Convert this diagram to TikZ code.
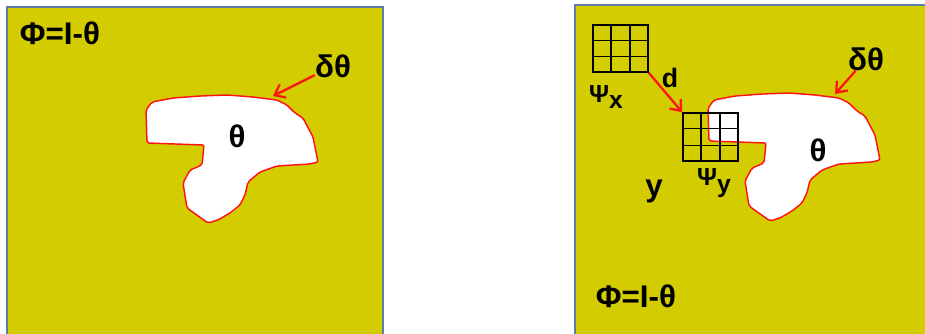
\documentclass[tikz,border=0pt]{standalone}
\usepackage{fontspec}
\setmainfont{Liberation Sans}
\usepackage{tikz}
\usetikzlibrary{arrows.meta, positioning, calc}
\definecolor{panelfill}{RGB}{210,204,0}
\definecolor{panelline}{RGB}{95,125,165}
\definecolor{edgered}{RGB}{255,20,20}

\tikzset{
  blob/.pic={
    \draw[edgered, line width=1.1pt, fill=white, rounded corners=1.5pt]
      (152,102) -- (173,98) -- (200,96) -- (227,95) -- (253,97) -- (277,100)
      -- (287,105) -- (295,113) -- (303,118) -- (313,137) -- (318,162)
      -- (310,164) -- (277,166) -- (260,172) -- (248,182) -- (245,195)
      -- (240,205) -- (230,213) -- (218,220) -- (208,223) -- (187,208)
      -- (183,183) -- (190,170) -- (202,165) -- (204,145) -- (147,143)
      -- (146,110) -- cycle;
    \coordinate (-edge) at (273,96);
  }
}
\newcommand\lowidx[1]{\raisebox{-0.5ex}{#1}}

\begin{document}
\begin{tikzpicture}[
    x={(0.75pt,0)}, y={(0,-0.75pt)},
    panel/.style={draw=panelline, line width=0.8pt, fill=panelfill},
    lbl/.style={inner sep=0pt, font=\bfseries\fontsize{23.5}{27}\selectfont},
    midlbl/.style={inner sep=0pt, font=\bfseries\fontsize{20}{23}\selectfont},
    psilbl/.style={inner sep=0pt, font=\bfseries\fontsize{18.5}{21}\selectfont},
    patchbox/.style={draw=black, line width=1.1pt, inner sep=0pt,
                  minimum width=41.25pt},
    cellline/.style={black, line width=1.1pt},
    redarr/.style={edgered, line width=1.7pt,
                   -{Straight Barb[length=7pt,width=11pt]}},
  ]
    \useasboundingbox (0,0) rectangle (925,333);
    \clip (0,0) rectangle (925,333);

    % left panel
    \draw[panel] (7,7) rectangle (383,345);
    \pic (L) at (0,0) {blob};
    \node[lbl] (phiL) at (60,33) {Φ=I-θ};
    \node[lbl] (thL) at (237,136) {θ};
    \node[lbl] (dL) at (333,66) {δθ};
    \draw[redarr] (dL) -- (L-edge);

    % right panel
    \draw[panel] (575,5) rectangle (940,345);
    \pic (R) at (562,-2) {blob};
    \node[lbl] (phiR) at (636,296) {Φ=I-θ};
    \node[lbl] (thR) at (818,150) {θ};
    \node[lbl] (dR) at (866,59) {δθ};
    \node[lbl] (yR) at (654,191) {y};
    \draw[redarr] (dR) -- (R-edge);

    % patches
    \node[patchbox, minimum height=35.25pt] (gx) at (620.5,48.5) {};
    \node[patchbox, minimum height=36pt] (gy) at (710.5,137) {};
    \foreach \g in {gx,gy}{
      \foreach \f in {1,2}{
        \draw[cellline] ($(\g.north west)!\f/3!(\g.north east)$) -- ($(\g.south west)!\f/3!(\g.south east)$);
        \draw[cellline] ($(\g.north west)!\f/3!(\g.south west)$) -- ($(\g.north east)!\f/3!(\g.south east)$);
      }
    }
    \node[psilbl] (psix) at (606,97) {Ψ\lowidx{x}};
    \node[psilbl] (psiy) at (714,183) {Ψ\lowidx{y}};
    \node[midlbl] (dist) at (670,78) {d};
    \draw[redarr] (gx.south east) -- (gy.north west);
\end{tikzpicture}
\end{document}
